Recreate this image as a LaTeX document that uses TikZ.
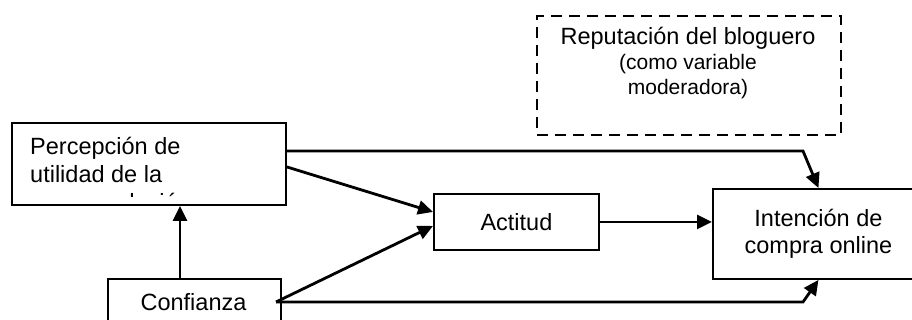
\documentclass[tikz,border=0pt]{standalone}
\usepackage{fontspec}
\setmainfont{Liberation Sans}
\usetikzlibrary{arrows.meta,calc}
\begin{document}
\begin{tikzpicture}[x=1pt,y=-1pt,
  box/.style={draw, line width=1.9pt, inner sep=0pt, anchor=north west},
  arr/.style={line width=2.8pt, -{Triangle[length=15pt,width=14pt]}},
  big/.style={font=\fontsize{23.5}{27}\selectfont},
  small/.style={font=\fontsize{21}{25}\selectfont},
  txt/.style={inner sep=0pt, anchor=base}]
\clip (0,0) rectangle (912,320);
% boxes
\node[box, minimum width=274pt, minimum height=82pt] (perc) at (11,122) {};
\begin{scope}
  \clip (11,122) rectangle (285,196.5);
  \node[big, txt, anchor=base west] (p1) at (30,155) {Percepción de};
  \node[big, txt, anchor=base west] (p2) at (30,183) {utilidad de la};
  \node[big, txt, anchor=base west] (p3) at (30,211) {recomendación};
\end{scope}
\node[box, minimum width=173pt, minimum height=70pt] (conf) at (107,278) {};
\node[big, txt] (conft) at (193.5,310) {Confianza};
\node[box, big, minimum width=165pt, minimum height=56pt] (act) at (433,193) {Actitud};
\node[box, big, align=center, minimum width=211pt, minimum height=90pt] (inten) at (712,188) {Intención de\\compra online};
\node[box, dash pattern=on 11pt off 7pt, minimum width=304pt, minimum height=119pt] (rep) at (536,15) {};
\node[big, txt] (r1) at (688,45) {Reputación del bloguero};
\node[small, txt] (r2) at (688,70) {(como variable};
\node[small, txt] (r3) at (688,95) {moderadora)};
% connectors
\coordinate (b1) at (803,151);
\coordinate (b2) at (803,302);
\coordinate (cs) at (276,302);
\coordinate (vx) at (180,0);
\draw[arr] (perc.east |- b1) -- (b1) -- (inten.north);
\draw[arr] ($(perc.east)+(0,3)$) -- ($(act.west)+(0,-10)$);
\draw[arr] (cs) -- ($(act.west)+(0,4)$);
\draw[arr] (cs) -- (b2) -- (inten.south);
\draw[arr] (conf.north -| vx) -- (perc.south -| vx);
\draw[arr] (act.east) -- (act.east -| inten.west);
\end{tikzpicture}
\end{document}
